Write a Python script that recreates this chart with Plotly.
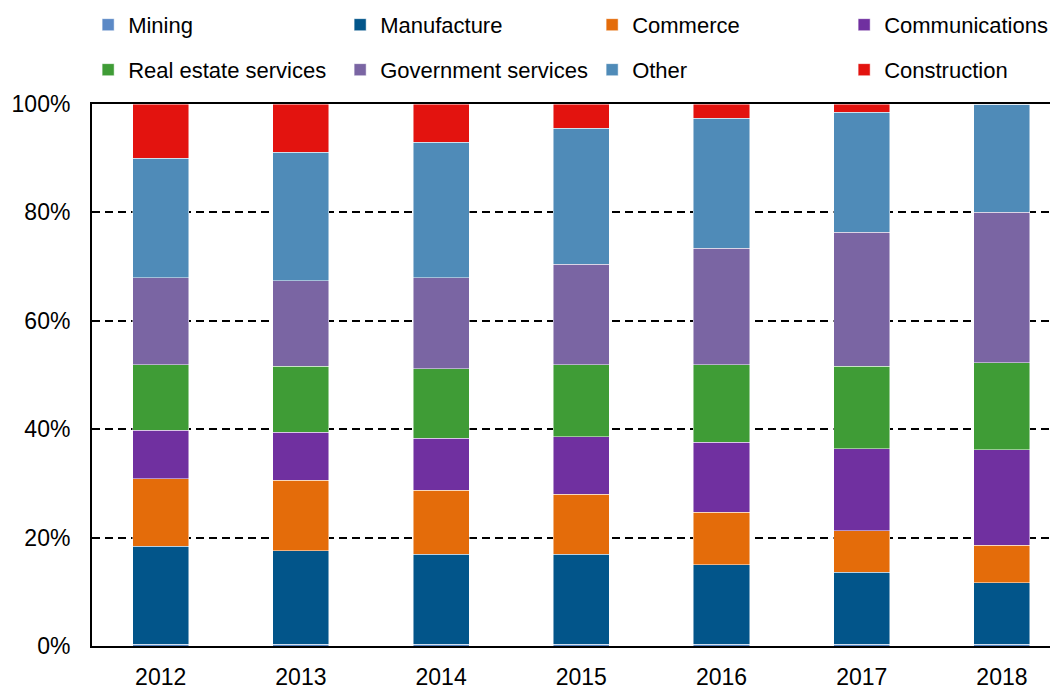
import plotly.graph_objects as go

# Participación por sector (fracción del total)
years = ["2012", "2013", "2014", "2015", "2016", "2017", "2018"]

mining = [0.003, 0.003, 0.003, 0.003, 0.003, 0.003, 0.003]
manufacture = [0.181, 0.173, 0.166, 0.166, 0.147, 0.133, 0.114]
commerce = [0.125, 0.130, 0.118, 0.111, 0.097, 0.077, 0.069]
communications = [0.089, 0.088, 0.096, 0.106, 0.129, 0.151, 0.176]
real_estate = [0.121, 0.122, 0.129, 0.133, 0.143, 0.152, 0.161]
government = [0.160, 0.158, 0.167, 0.185, 0.215, 0.247, 0.277]
other = [0.221, 0.237, 0.250, 0.251, 0.240, 0.222, 0.200]
construction = [0.100, 0.089, 0.071, 0.045, 0.026, 0.015, 0.000]

series = [
    ("Mining", mining, "#5B89C6", "legend"),
    ("Manufacture", manufacture, "#02558A", "legend"),
    ("Commerce", commerce, "#E46C0A", "legend"),
    ("Communications", communications, "#7030A0", "legend"),
    ("Real estate services", real_estate, "#3F9C36", "legend2"),
    ("Government services", government, "#7A65A3", "legend2"),
    ("Other", other, "#4F8BB8", "legend2"),
    ("Construction", construction, "#E3130F", "legend2"),
]

fig = go.Figure()
for name, vals, color, leg in series:
    fig.add_trace(
        go.Bar(
            x=years,
            y=vals,
            name=name,
            legend=leg,
            marker=dict(color=color, line=dict(color="rgba(255,255,255,0.6)", width=0.8)),
        )
    )

font = dict(family="Liberation Sans, Arial, sans-serif", size=23, color="black")
leg_font = dict(family="Liberation Sans, Arial, sans-serif", size=22, color="black")

# dos leyendas, una por fila
legend_common = dict(
    orientation="h",
    xref="paper",
    yref="paper",
    x=-0.004,
    xanchor="left",
    yanchor="middle",
    entrywidth=207,
    entrywidthmode="pixels",
    itemwidth=30,
    font=leg_font,
    bgcolor="rgba(0,0,0,0)",
    traceorder="normal",
)

# la página deja 8 px de margen en el body
fig.update_layout(
    barmode="stack",
    bargap=0.6,
    width=1050,
    height=680,
    margin=dict(l=84, r=0, t=96, b=42, autoexpand=False),
    plot_bgcolor="white",
    paper_bgcolor="white",
    font=font,
    legend=dict(legend_common, y=1.146),
    legend2=dict(legend_common, y=1.063),
)

fig.update_xaxes(
    type="category",
    range=[-0.49, 6.4],
    showline=True,
    linecolor="black",
    linewidth=2,
    mirror=True,
    showgrid=False,
    ticks="",
    ticklabelstandoff=9,
    tickfont=font,
)
fig.update_yaxes(
    range=[0, 1],
    dtick=0.2,
    tickformat=".0%",
    showline=True,
    linecolor="black",
    linewidth=2,
    mirror=True,
    showgrid=True,
    gridcolor="black",
    gridwidth=1.5,
    griddash="8px,5px",
    zeroline=False,
    ticks="",
    ticklabelstandoff=15,
    tickfont=font,
)

fig.write_html("out.html")
